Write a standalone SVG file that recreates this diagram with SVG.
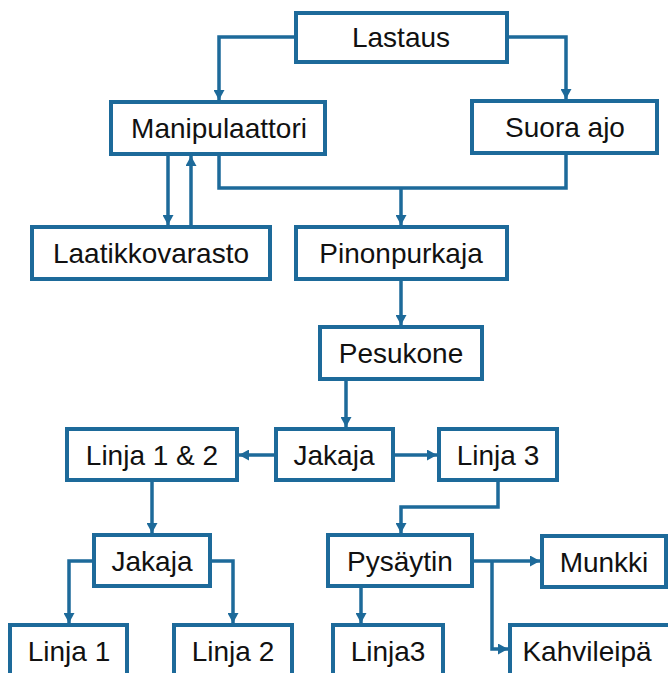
<svg xmlns="http://www.w3.org/2000/svg" width="668" height="673" viewBox="0 0 668 673">
<style>
.box{fill:#fff;stroke:#1d6a9a;stroke-width:4}
.lbl{font-family:"Liberation Sans",Arial,sans-serif;font-size:28px;fill:#111;text-anchor:middle}
.c{fill:none;stroke:#1d6a9a;stroke-width:3.5}
.a{marker-end:url(#ah)}
</style>
<defs>
<marker id="ah" markerUnits="userSpaceOnUse" markerWidth="11" markerHeight="11" refX="10" refY="5.5" orient="auto" viewBox="0 0 11 11">
<path d="M0,0 L10,5.5 L0,11 z" fill="#1d6a9a"/>
</marker>
</defs>
<rect width="668" height="673" fill="#fff"/>
<g id="connectors">
<path class="c a" d="M296,37 H219 V100"/>
<path class="c a" d="M507,37 H566 V99"/>
<path class="c a" d="M168,154 V225"/>
<path class="c a" d="M191,227 V156"/>
<path class="c" d="M219,154 V188 H566 V153"/>
<path class="c a" d="M401,188 V225"/>
<path class="c a" d="M401,279 V325"/>
<path class="c a" d="M346,379 V427"/>
<path class="c a" d="M276,455 H239"/>
<path class="c a" d="M393,455 H437"/>
<path class="c a" d="M152,480 V533"/>
<path class="c a" d="M94,561 H69 V623"/>
<path class="c a" d="M210,561 H233 V623"/>
<path class="c a" d="M498,480 V507 H401 V533"/>
<path class="c a" d="M472,561 H540"/>
<path class="c a" d="M492,561 V649 H508"/>
<path class="c a" d="M361,586 V623"/>
</g>
<g id="lastaus"><rect class="box" x="296" y="13" width="211" height="49"/><text class="lbl" x="401" y="47">Lastaus</text></g>
<g id="manipulaattori"><rect class="box" x="111" y="102" width="214" height="52"/><text class="lbl" x="219" y="138">Manipulaattori</text></g>
<g id="suora-ajo"><rect class="box" x="472" y="101" width="185" height="52"/><text class="lbl" x="565" y="137">Suora ajo</text></g>
<g id="laatikkovarasto"><rect class="box" x="32" y="227" width="238" height="52"/><text class="lbl" x="151" y="263">Laatikkovarasto</text></g>
<g id="pinonpurkaja"><rect class="box" x="296" y="227" width="211" height="52"/><text class="lbl" x="401" y="263">Pinonpurkaja</text></g>
<g id="pesukone"><rect class="box" x="320" y="327" width="162" height="52"/><text class="lbl" x="401" y="363">Pesukone</text></g>
<g id="jakaja"><rect class="box" x="276" y="429" width="117" height="51"/><text class="lbl" x="334" y="465">Jakaja</text></g>
<g id="linja12"><rect class="box" x="67" y="429" width="170" height="51"/><text class="lbl" x="152" y="465">Linja 1 &amp; 2</text></g>
<g id="linja3a"><rect class="box" x="439" y="429" width="118" height="51"/><text class="lbl" x="498" y="465">Linja 3</text></g>
<g id="jakaja2"><rect class="box" x="94" y="535" width="116" height="51"/><text class="lbl" x="152" y="571">Jakaja</text></g>
<g id="pysaytin"><rect class="box" x="328" y="535" width="144" height="51"/><text class="lbl" x="400" y="571">Pysäytin</text></g>
<g id="munkki"><rect class="box" x="542" y="536" width="124" height="51"/><text class="lbl" x="604" y="572">Munkki</text></g>
<g id="linja1"><rect class="box" x="10" y="625" width="117" height="52"/><text class="lbl" x="69" y="661">Linja 1</text></g>
<g id="linja2"><rect class="box" x="174" y="625" width="118" height="52"/><text class="lbl" x="233" y="661">Linja 2</text></g>
<g id="linja3b"><rect class="box" x="333" y="625" width="110" height="52"/><text class="lbl" x="388" y="661">Linja3</text></g>
<g id="kahvileipa"><rect class="box" x="510" y="625" width="160" height="52"/><text class="lbl" x="587" y="661">Kahvileipä</text></g>
</svg>
